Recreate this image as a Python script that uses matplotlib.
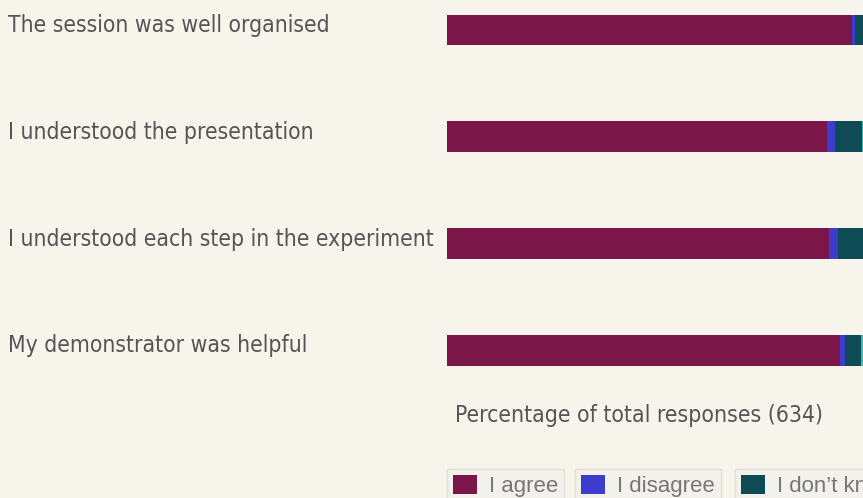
import matplotlib
matplotlib.use("Agg")
import matplotlib.pyplot as plt
import matplotlib.transforms as mtransforms
from matplotlib.patches import Patch
import numpy as np

questions = ["The session was well organised",
             "I understood the presentation",
             "I understood each step in the experiment",
             "My demonstrator was helpful"]
categories = ["I agree", "I disagree", "I don\u2019t know", "No answer"]
agree = [90.0, 84.4, 84.9, 87.3]
disagree = [0.7, 1.8, 2.0, 1.1]
dont_know = [5.5, 6.0, 6.5, 3.6]
no_answer = [3.8, 7.8, 6.6, 8.0]
title = "Percentage of total responses (634)"

colors = ["#7b1648", "#3c3ccd", "#0f4b55", "#3cbcb0"]
bg = "#f7f4ec"
cond = ['DejaVu Sans Condensed', 'Liberation Sans Narrow', 'DejaVu Sans']

W, H = 863, 498
fig = plt.figure(figsize=(W / 100, H / 100), dpi=100, facecolor=bg)
ax = fig.add_axes([447 / W, (H - 380) / H, 450 / W, 380 / H])
ax.set_facecolor(bg)

series = [agree, disagree, dont_know, no_answer]
y = np.arange(len(questions))
left = np.zeros(len(questions))
for vals, c in zip(series, colors):
    ax.barh(y, vals, left=left, height=0.29, color=c, linewidth=0)
    left += np.array(vals)

ax.set_xlim(0, 100)
ax.set_ylim(3.28, -0.281)
ax.axis("off")

tr = mtransforms.blended_transform_factory(fig.transFigure, ax.transData)
for i, q in enumerate(questions):
    ax.text(8 / W, i - 0.04, q, transform=tr, ha="left", va="center",
            fontsize=16.4, color="#555555", family=cond, fontstretch="condensed")

fig.text(455 / W, 1 - 415 / H, title, ha="left", va="center",
         fontsize=16.5, color="#555555", family=cond, fontstretch="condensed")

lx = [447, 575, 735]
for x0, lab, c in zip(lx, categories[:3], colors[:3]):
    leg = fig.legend(handles=[Patch(facecolor=c, edgecolor="none", label=lab)],
                     loc="upper left", bbox_to_anchor=(x0 / W, 1 - 469 / H),
                     frameon=True, fancybox=False,
                     prop={"family": "Liberation Sans", "size": 16},
                     handlelength=1.1, handleheight=1.0, handletextpad=0.55,
                     borderpad=0.25, borderaxespad=0)
    leg.get_frame().set_facecolor("#f3f1eb")
    leg.get_frame().set_edgecolor("#dcd9d1")
    leg.get_frame().set_linewidth(1)
    for t in leg.get_texts():
        t.set_color("#777777")

fig.savefig("out.png", dpi=100, facecolor=bg)
